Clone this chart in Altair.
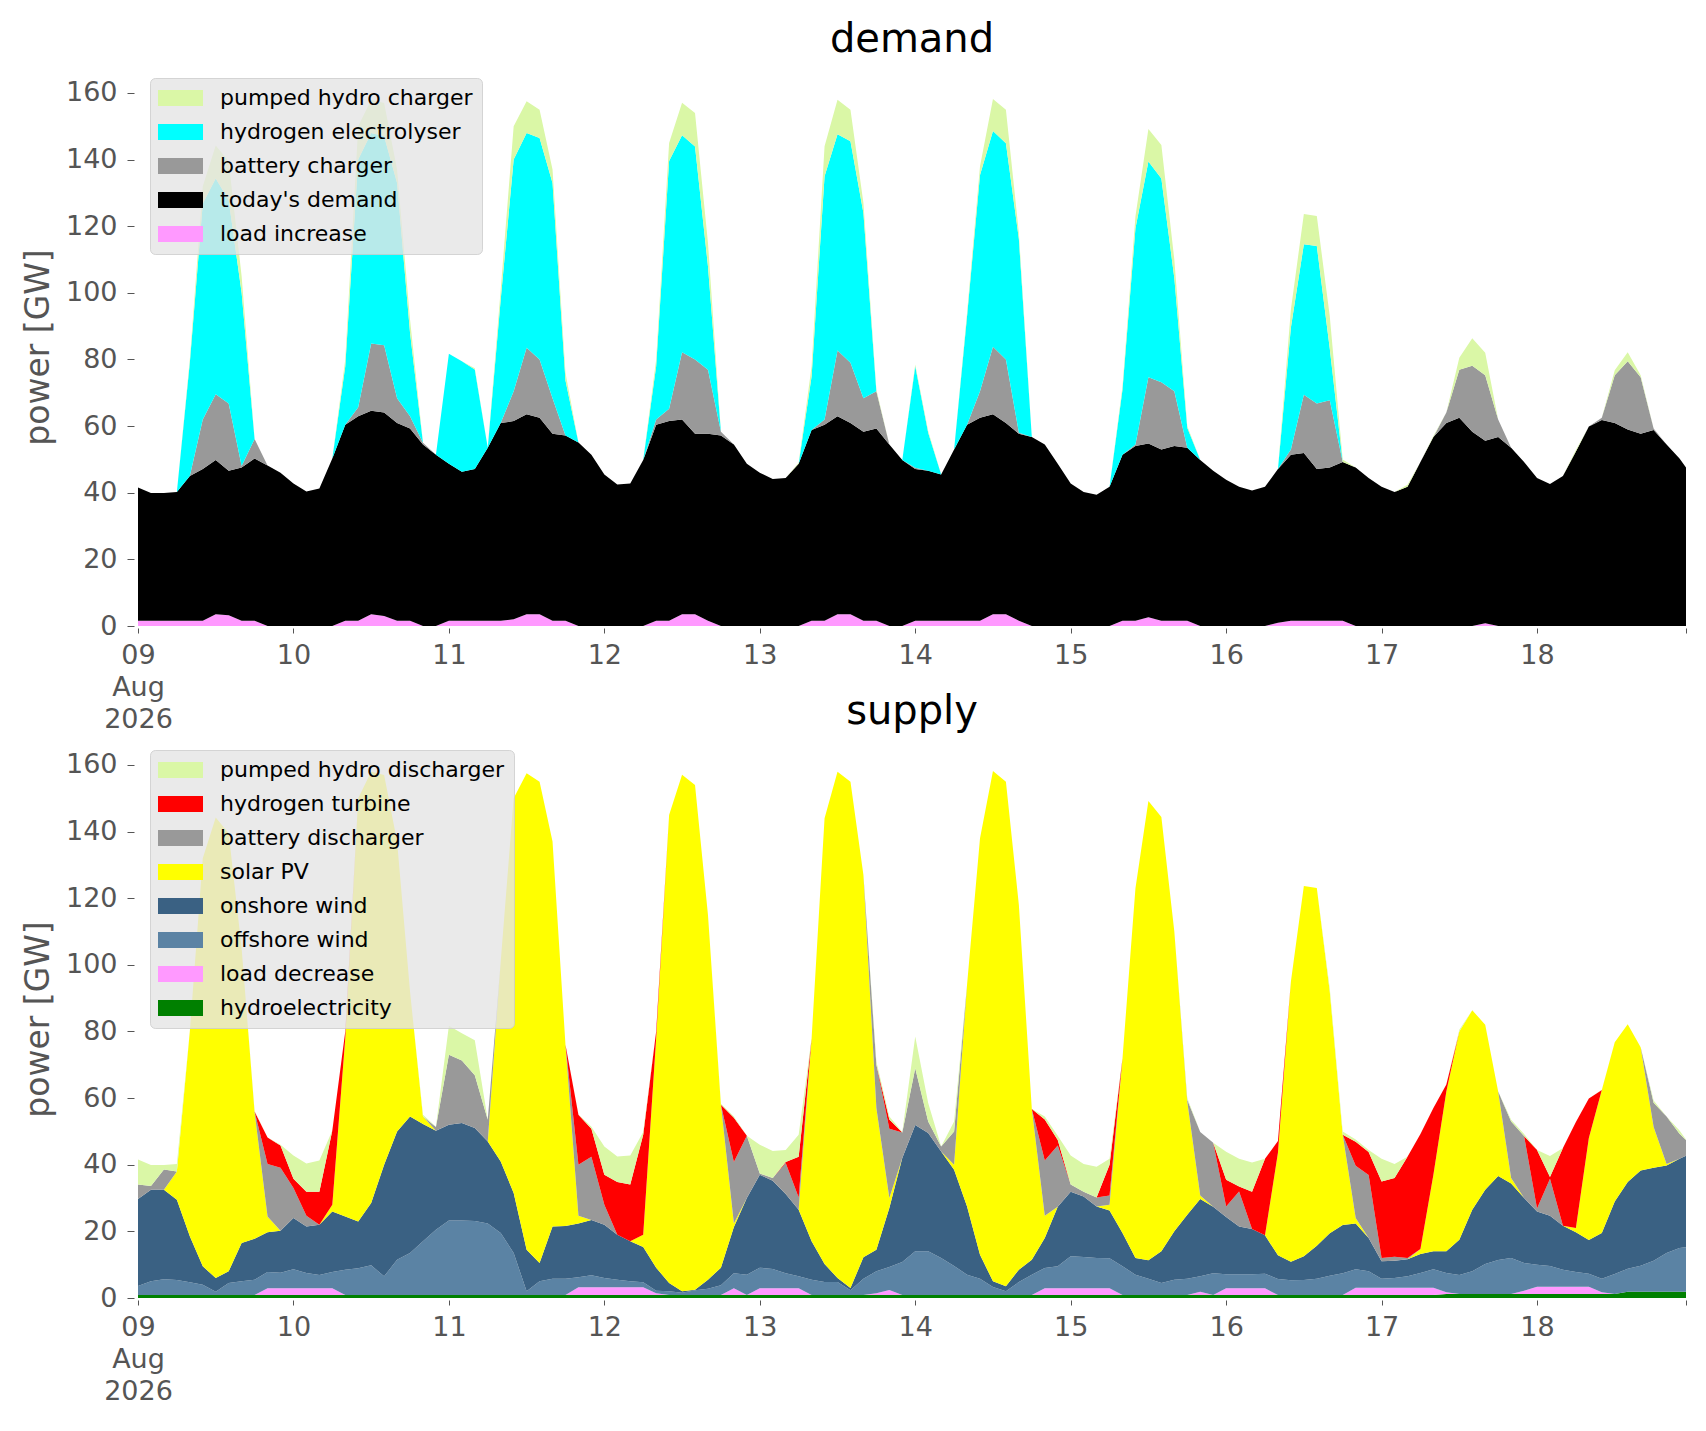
import numpy as np
import pandas as pd
import altair as alt

# time grid: every 2 hours from 09 Aug 00:00, plus the last hour (18 Aug 23:00)
hours = list(range(0, 240, 2)) + [239]

# ---- demand side, tops of each stacked layer [GW], one line per day (09 .. 18 Aug)
load_increase = [
    1.6, 1.6, 1.6, 1.6, 1.6, 1.6, 3.5, 3.2, 1.6, 1.6, 0, 0,
    0, 0, 0, 0, 1.6, 1.6, 3.5, 3.0, 1.6, 1.6, 0, 0,
    1.6, 1.6, 1.6, 1.6, 1.6, 2.0, 3.5, 3.5, 1.6, 1.6, 0, 0,
    0, 0, 0, 0, 1.6, 1.6, 3.5, 3.5, 1.6, 0, 0, 0,
    0, 0, 0, 0, 1.6, 1.6, 3.5, 3.5, 1.6, 1.6, 0, 0,
    1.6, 1.6, 1.6, 1.6, 1.6, 1.6, 3.5, 3.5, 1.6, 0, 0, 0,
    0, 0, 0, 0, 1.6, 1.6, 2.6, 1.6, 1.6, 1.6, 0, 0,
    0, 0, 0, 0, 1.0, 1.6, 1.6, 1.6, 1.6, 1.6, 0, 0,
    0, 0, 0, 0, 0, 0, 0, 0, 0.8, 0, 0, 0,
    0, 0, 0, 0, 0, 0, 0, 0, 0, 0, 0, 0, 0,
]
todays_demand_top = [
    41.6, 39.9, 39.9, 40.2, 45.0, 47.1, 49.8, 46.6, 47.6, 50.3, 48.2, 46.0,
    42.8, 40.4, 41.3, 50.3, 60.4, 63.0, 64.6, 64.1, 60.9, 59.3, 54.5, 51.4,
    48.7, 46.3, 47.1, 53.5, 60.9, 61.5, 63.6, 62.5, 57.7, 57.2, 55.1, 51.4,
    45.5, 42.5, 42.8, 49.8, 60.4, 61.5, 62.0, 57.7, 57.7, 57.2, 54.5, 48.7,
    46.0, 44.1, 44.4, 48.7, 58.8, 60.4, 63.0, 60.9, 58.3, 59.3, 54.5, 49.8,
    47.1, 46.6, 45.5, 53.0, 60.4, 62.5, 63.6, 60.9, 57.7, 56.7, 54.5, 48.7,
    42.8, 40.2, 39.4, 41.8, 51.4, 54.0, 54.8, 53.0, 54.0, 53.5, 49.8, 46.6,
    43.9, 41.8, 40.7, 41.8, 47.1, 51.4, 51.9, 47.1, 47.6, 49.2, 47.6, 44.4,
    41.8, 40.2, 41.8, 49.2, 56.7, 60.9, 62.5, 58.3, 55.6, 56.7, 53.5, 49.2,
    44.4, 42.6, 45.0, 52.4, 59.9, 61.8, 60.9, 59.0, 57.7, 58.8, 54.5, 50.3, 47.6,
]
battery_charger_top = [
    41.6, 39.9, 39.9, 40.2, 45.0, 62.0, 69.6, 66.8, 48.0, 56.1, 48.2, 46.0,
    42.8, 40.4, 41.3, 50.3, 60.4, 65.7, 84.8, 84.3, 68.4, 63.0, 55.0, 51.4,
    48.7, 46.3, 47.1, 53.5, 60.9, 70.5, 83.5, 80.0, 68.4, 57.2, 55.1, 51.4,
    45.5, 42.5, 42.8, 49.8, 62.0, 65.2, 82.2, 80.0, 76.9, 58.3, 54.5, 48.7,
    46.0, 44.1, 44.4, 48.7, 58.8, 62.0, 82.7, 79.0, 68.4, 70.5, 54.5, 49.8,
    47.5, 46.6, 45.5, 53.0, 60.4, 70.5, 83.8, 80.0, 58.0, 56.7, 54.5, 48.7,
    42.8, 40.2, 39.4, 41.8, 51.4, 54.5, 74.7, 73.2, 70.5, 53.5, 49.8, 46.6,
    43.9, 41.8, 40.7, 41.8, 47.1, 53.0, 69.4, 66.8, 67.8, 49.2, 47.6, 44.4,
    41.8, 40.2, 41.8, 49.2, 56.7, 64.1, 76.9, 78.1, 75.3, 62.0, 53.5, 49.2,
    44.4, 42.6, 45.0, 52.4, 59.9, 62.5, 75.3, 79.5, 74.7, 59.3, 54.5, 50.3, 47.6,
]
electrolyser_top = [
    41.6, 39.9, 39.9, 40.2, 79.0, 126.8, 134.3, 127.9, 100.0, 56.1, 48.2, 46.0,
    42.8, 40.4, 41.3, 50.3, 78.0, 140.0, 148.0, 147.0, 133.0, 88.0, 55.0, 51.4,
    81.7, 79.5, 77.0, 53.5, 98.0, 140.0, 148.0, 146.5, 133.0, 73.7, 55.1, 51.4,
    45.5, 42.5, 42.8, 49.8, 78.0, 139.6, 147.3, 143.9, 108.0, 58.3, 54.5, 48.7,
    46.0, 44.1, 44.4, 48.7, 75.0, 135.0, 147.6, 145.5, 124.0, 70.5, 54.5, 49.8,
    78.0, 58.0, 45.5, 53.0, 93.0, 135.4, 148.6, 144.9, 116.2, 56.7, 54.5, 48.7,
    42.8, 40.2, 39.4, 41.8, 71.0, 119.4, 139.4, 134.3, 104.5, 59.5, 49.8, 46.6,
    43.9, 41.8, 40.7, 41.8, 47.1, 89.6, 114.6, 114.1, 83.3, 49.2, 47.6, 44.4,
    41.8, 40.2, 41.8, 49.2, 56.7, 64.1, 76.9, 78.1, 75.3, 62.0, 53.5, 49.2,
    44.4, 42.6, 45.0, 52.4, 59.9, 62.5, 75.3, 79.5, 74.7, 59.3, 54.5, 50.3, 47.6,
]
# total demand = total supply (top of the pumped hydro layer in both panels)
total_top = [
    41.6, 39.9, 39.9, 40.2, 80.0, 132.0, 144.2, 139.5, 105.0, 56.1, 48.2, 46.0,
    42.8, 40.4, 41.3, 50.3, 80.0, 150.0, 158.0, 157.0, 137.0, 92.0, 55.0, 51.4,
    81.7, 79.5, 77.4, 53.5, 101.0, 150.0, 157.5, 155.0, 137.0, 76.0, 55.1, 51.4,
    45.5, 42.5, 42.8, 49.8, 80.0, 145.0, 157.1, 154.0, 115.0, 58.3, 54.5, 48.7,
    46.0, 44.1, 44.4, 49.0, 78.0, 144.0, 158.0, 155.0, 127.0, 71.0, 54.5, 49.8,
    78.5, 58.5, 45.5, 53.0, 94.0, 138.0, 158.2, 155.0, 118.0, 56.7, 54.5, 48.7,
    42.8, 40.2, 39.4, 41.8, 72.0, 123.0, 149.2, 144.4, 110.0, 60.0, 49.8, 46.6,
    43.9, 41.8, 40.7, 41.8, 47.1, 95.0, 123.7, 123.1, 93.0, 50.0, 47.6, 44.4,
    41.8, 40.2, 42.4, 49.2, 57.0, 64.1, 80.5, 86.4, 82.0, 62.0, 53.5, 49.2,
    44.4, 42.6, 45.0, 52.8, 59.9, 62.5, 76.8, 82.2, 75.3, 59.3, 54.5, 50.3, 47.6,
]

# ---- supply side, tops of each stacked layer [GW]
hydro_top = [0.9] * 96 + [0.9] * 5 + [1.2] * 7 + [1.2] * 7 + [1.9] * 5 + [1.9]
load_decrease_top = [
    0.9, 0.9, 0.9, 0.9, 0.9, 0.9, 0.9, 0.9, 0.9, 0.9, 2.9, 2.9,
    2.9, 2.9, 2.9, 2.9, 0.9, 0.9, 0.9, 0.9, 0.9, 0.9, 0.9, 0.9,
    0.9, 0.9, 0.9, 0.9, 0.9, 0.9, 0.9, 0.9, 0.9, 0.9, 3.2, 3.2,
    3.2, 3.2, 3.2, 3.2, 1.4, 0.9, 0.9, 0.9, 0.9, 0.9, 2.9, 0.9,
    2.9, 2.9, 2.9, 2.9, 0.9, 0.9, 0.9, 0.9, 0.9, 1.4, 2.4, 0.9,
    0.9, 0.9, 0.9, 0.9, 0.9, 0.9, 0.9, 0.9, 0.9, 0.9, 2.9, 2.9,
    2.9, 2.9, 2.9, 2.9, 0.9, 0.9, 0.9, 0.9, 0.9, 0.9, 1.9, 0.9,
    2.9, 2.9, 2.9, 2.9, 0.9, 0.9, 0.9, 0.9, 0.9, 0.9, 3.1, 3.1,
    3.1, 3.1, 3.1, 3.1, 3.1, 1.7, 1.2, 1.2, 1.2, 1.2, 1.2, 2.2,
    3.4, 3.4, 3.4, 3.4, 3.4, 1.7, 1.2, 1.9, 1.9, 1.9, 1.9, 1.9, 1.9,
]
offshore_top = [
    3.6, 5.0, 5.6, 5.4, 4.7, 4.0, 1.9, 4.5, 5.0, 5.5, 7.8, 7.6,
    8.6, 7.5, 6.9, 7.8, 8.5, 8.9, 9.8, 6.5, 11.5, 13.5, 17.0, 20.5,
    23.3, 23.3, 23.1, 22.4, 19.5, 13.5, 2.0, 5.0, 5.8, 5.8, 6.2, 6.8,
    6.0, 5.5, 5.0, 4.7, 2.2, 2.0, 1.6, 2.3, 2.8, 3.8, 7.4, 7.0,
    9.1, 8.7, 7.4, 6.5, 5.5, 4.8, 4.8, 2.3, 5.8, 8.0, 9.3, 10.8,
    14.0, 14.0, 12.0, 9.6, 7.0, 5.8, 3.3, 2.0, 4.8, 7.0, 9.0, 9.5,
    12.5, 12.3, 12.0, 11.9, 9.5, 7.0, 5.8, 4.5, 5.5, 5.8, 6.5, 7.4,
    7.1, 7.1, 7.1, 7.3, 5.7, 5.3, 5.4, 5.8, 6.7, 7.4, 8.6, 8.0,
    5.8, 6.0, 6.5, 7.5, 8.6, 7.5, 6.9, 8.0, 10.2, 11.4, 12.0, 10.5,
    10.0, 9.6, 8.5, 7.8, 7.3, 5.8, 7.2, 8.8, 9.7, 11.2, 13.5, 15.0, 15.2,
]
onshore_top = [
    29.7, 32.5, 32.5, 29.5, 18.5, 9.5, 6.0, 8.0, 16.5, 17.8, 19.7, 20.2,
    24.0, 21.5, 22.0, 26.0, 24.5, 23.0, 28.5, 40.0, 50.0, 54.5, 52.2, 50.2,
    52.0, 52.5, 51.0, 47.0, 41.0, 31.5, 14.5, 10.5, 21.5, 21.6, 22.4, 23.4,
    22.0, 19.0, 17.0, 15.3, 9.1, 4.5, 2.0, 2.5, 5.5, 9.1, 21.3, 30.0,
    37.0, 35.2, 31.2, 26.5, 17.0, 10.2, 6.0, 3.0, 12.2, 14.5, 27.0, 42.0,
    51.9, 49.5, 44.0, 38.5, 27.5, 13.0, 5.0, 3.5, 8.5, 11.5, 18.0, 27.4,
    31.9, 30.5, 27.5, 26.3, 19.5, 12.0, 11.3, 14.0, 20.0, 25.0, 29.7, 27.4,
    24.3, 21.5, 20.7, 18.8, 12.8, 10.9, 12.5, 15.7, 19.4, 21.9, 22.4, 18.0,
    11.0, 11.2, 11.6, 13.2, 14.0, 14.0, 17.5, 26.5, 32.5, 36.6, 34.4, 30.0,
    26.0, 24.7, 21.7, 19.7, 17.4, 19.5, 29.0, 34.8, 38.3, 39.1, 39.8, 41.8, 42.7,
]
solar_top = [
    29.7, 32.5, 32.5, 38.0, 80.0, 132.0, 144.2, 139.5, 105.0, 55.8, 24.5, 20.2,
    24.0, 21.5, 22.0, 28.0, 78.0, 150.0, 158.0, 157.0, 137.0, 92.0, 54.5, 50.2,
    52.0, 52.5, 51.0, 47.0, 101.0, 150.0, 157.5, 155.0, 137.0, 76.0, 24.7, 23.4,
    22.0, 19.0, 17.0, 19.0, 78.0, 145.0, 157.1, 154.0, 115.0, 58.0, 22.4, 30.0,
    37.0, 35.2, 31.2, 26.5, 78.0, 144.0, 158.0, 155.0, 127.0, 57.0, 30.0, 42.0,
    51.9, 49.5, 44.0, 40.0, 94.0, 138.0, 158.2, 155.0, 118.0, 56.7, 24.7, 27.4,
    31.9, 30.5, 27.5, 28.0, 72.0, 123.0, 149.2, 144.4, 110.0, 59.0, 30.8, 27.4,
    24.3, 21.5, 20.7, 18.8, 43.6, 95.0, 123.7, 123.1, 92.0, 49.0, 24.0, 18.0,
    11.0, 11.2, 11.6, 14.7, 37.0, 62.0, 80.0, 86.4, 82.0, 62.0, 36.0, 30.0,
    26.0, 24.7, 21.7, 21.0, 48.0, 62.4, 76.8, 82.2, 75.3, 51.3, 40.2, 41.8, 42.7,
]
battery_discharger_top = [
    34.1, 33.6, 38.6, 38.0, 80.0, 132.0, 144.2, 139.5, 105.0, 56.0, 40.2, 39.1,
    33.0, 24.7, 22.0, 28.0, 78.0, 150.0, 158.0, 157.0, 137.0, 92.0, 54.5, 51.3,
    73.0, 71.3, 66.9, 53.5, 101.0, 150.0, 157.5, 155.0, 137.0, 76.0, 40.0, 42.4,
    28.0, 19.0, 17.0, 19.0, 78.0, 145.0, 157.1, 154.0, 115.0, 58.0, 40.8, 48.7,
    37.4, 36.0, 40.5, 30.2, 78.0, 144.0, 158.0, 155.0, 127.0, 70.0, 50.8, 49.7,
    69.0, 53.0, 45.5, 50.0, 94.0, 138.0, 158.2, 155.0, 118.0, 56.7, 41.3, 45.8,
    34.1, 31.9, 30.2, 30.8, 72.0, 123.0, 149.2, 144.4, 110.0, 59.5, 49.8, 46.6,
    27.5, 32.0, 20.7, 18.8, 43.6, 95.0, 123.7, 123.1, 92.0, 49.0, 39.7, 36.9,
    12.0, 12.4, 12.0, 14.7, 37.0, 62.0, 80.0, 86.4, 82.0, 62.0, 53.0, 48.6,
    26.9, 35.8, 21.7, 21.0, 48.0, 62.4, 76.8, 82.2, 75.3, 58.6, 54.5, 49.3, 47.4,
]
h2_turbine_top = [
    34.1, 33.6, 38.6, 38.0, 80.0, 132.0, 144.2, 139.5, 105.0, 56.0, 48.2, 45.8,
    35.8, 31.9, 31.9, 50.3, 80.0, 150.0, 158.0, 157.0, 137.0, 92.0, 54.5, 51.3,
    73.0, 71.3, 66.9, 53.5, 101.0, 150.0, 157.5, 155.0, 137.0, 76.0, 55.0, 50.8,
    37.0, 34.8, 34.1, 49.0, 80.0, 145.0, 157.1, 154.0, 115.0, 58.0, 54.1, 48.7,
    37.4, 36.0, 40.8, 42.4, 78.0, 144.0, 158.0, 155.0, 127.0, 70.0, 53.6, 49.7,
    69.0, 53.0, 45.5, 50.0, 94.0, 138.0, 158.2, 155.0, 118.0, 56.7, 53.6, 47.4,
    34.1, 31.9, 30.2, 40.0, 72.0, 123.0, 149.2, 144.4, 110.0, 59.5, 49.8, 46.6,
    35.5, 33.5, 31.9, 41.8, 47.1, 95.0, 123.7, 123.1, 92.0, 49.0, 46.9, 43.8,
    35.0, 36.0, 42.4, 49.2, 57.0, 64.1, 80.0, 86.4, 82.0, 62.0, 53.0, 48.6,
    44.4, 36.3, 45.0, 52.8, 59.9, 62.4, 76.8, 82.2, 75.3, 58.6, 54.5, 49.3, 47.4,
]

# layer name -> colour, bottom to top
demand_layers = [
    ("load increase", load_increase, "#ff99ff"),
    ("today's demand", todays_demand_top, "#000000"),
    ("battery charger", battery_charger_top, "#999999"),
    ("hydrogen electrolyser", electrolyser_top, "#00ffff"),
    ("pumped hydro charger", total_top, "#daf7a6"),
]
supply_layers = [
    ("hydroelectricity", hydro_top, "#008000"),
    ("load decrease", load_decrease_top, "#ff99ff"),
    ("offshore wind", offshore_top, "#5b83a4"),
    ("onshore wind", onshore_top, "#3a6183"),
    ("solar PV", solar_top, "#ffff00"),
    ("battery discharger", battery_discharger_top, "#999999"),
    ("hydrogen turbine", h2_turbine_top, "#ff0000"),
    ("pumped hydro discharger", total_top, "#daf7a6"),
]

day = 9 + np.array(hours) / 24.0
x_end = 9 + 239 / 24.0


def stack_frame(layers):
    # turn the read-off layer tops into (lo, hi) bands
    rows = []
    lo = np.zeros(len(hours))
    for name, top, _ in layers:
        assert len(top) == len(hours), name
        hi = np.maximum(np.array(top, dtype=float), lo)
        for t, a, b in zip(day, lo, hi):
            rows.append({"day": t, "series": name, "lo": a, "hi": b})
        lo = hi
    return pd.DataFrame(rows)


def make_panel(layers, title):
    df = stack_frame(layers)
    names = [l[0] for l in layers][::-1]     # legend lists the top layer first
    colors = [l[2] for l in layers][::-1]

    x_axis = alt.Axis(
        values=list(range(9, 19)) + [x_end],
        labelExpr="datum.value == 9 ? ['09', 'Aug', '2026'] : (datum.value > 18.5 ? '' : format(datum.value, 'd'))",
        tickSize=5, offset=2, labelPadding=9, labelLineHeight=32,
        labelFontSize=27, labelColor="#555555", tickColor="#555555",
        labelFlush=False, labelOverlap=False, domain=False, grid=False,
    )
    y_axis = alt.Axis(
        values=list(range(0, 161, 20)), format="d",
        tickSize=7, offset=4, labelPadding=10,
        labelFontSize=27, labelColor="#555555", tickColor="#555555",
        title="power [GW]", titleFontSize=33, titleColor="#555555",
        titleFontWeight="normal", titlePadding=10,
        domain=False, grid=False,
    )
    # wide swatch: a custom path wider than the unit square
    legend = alt.Legend(
        title=None, orient="none", legendX=12, legendY=10,
        symbolType="M-1.2,-0.8H3.3V0.8H-1.2Z", symbolSize=400,
        symbolStrokeWidth=0, symbolOpacity=1,
        labelFontSize=22, labelColor="#000000", labelOffset=39, labelLimit=0,
        rowPadding=12, padding=9, cornerRadius=5,
        fillColor="rgba(229,229,229,0.8)", strokeColor="rgba(204,204,204,0.8)",
    )

    return alt.Chart(df).mark_area(interpolate="linear").encode(
        x=alt.X("day:Q", title=None, axis=x_axis,
                scale=alt.Scale(domain=[9, x_end], nice=False, zero=False)),
        y=alt.Y("hi:Q", axis=y_axis,
                scale=alt.Scale(domain=[0, 167.5], nice=False)),
        y2="lo:Q",
        color=alt.Color("series:N", legend=legend,
                        scale=alt.Scale(domain=names, range=colors)),
    ).properties(
        width=1548, height=558,
        title=alt.TitleParams(title, fontSize=40, fontWeight="normal",
                              color="#000000", anchor="middle", offset=8),
    )


demand = make_panel(demand_layers, "demand")
supply = make_panel(supply_layers, "supply")

chart = alt.vconcat(demand, supply, spacing=114, bounds="flush").resolve_scale(
    color="independent"
).resolve_legend(
    color="independent"
).properties(
    padding={"left": 14, "top": 12, "right": 5, "bottom": 5}
).configure(
    font="DejaVu Sans"
).configure_view(strokeWidth=0)

chart.save("out.html", embed_options={"renderer": "svg", "actions": False})
